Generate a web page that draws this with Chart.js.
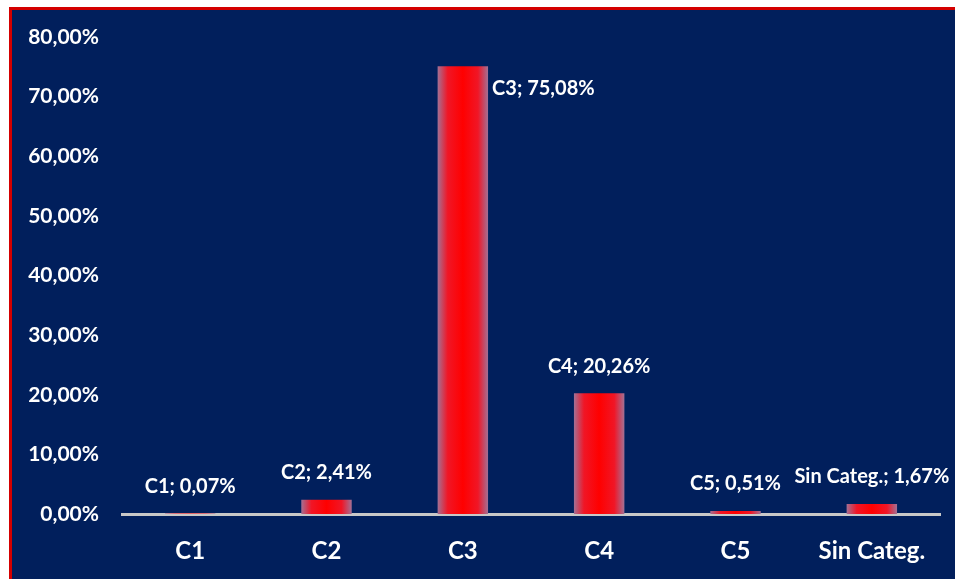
<!DOCTYPE html>
<html>
<head>
<meta charset="utf-8">
<script src="https://cdn.jsdelivr.net/npm/chart.js@4/dist/chart.umd.min.js"></script>
<style>
  html, body { margin: 0; padding: 0; background: #ffffff; width: 955px; height: 579px; overflow: hidden; }
  #frame {
    position: absolute; left: 9px; top: 7px; width: 943px; height: 569px;
    border-top: 3px solid #d40000; border-left: 3px solid #d40000;
    background: #011f5c;
  }
  #wrap { position: absolute; left: 0; top: 0; width: 943px; height: 569px; }
</style>
</head>
<body>
<div id="frame"><div id="wrap"><canvas id="c"></canvas></div></div>
<script>
const categories = ["C1", "C2", "C3", "C4", "C5", "Sin Categ."];
const shares = [0.07, 2.41, 75.08, 20.26, 0.51, 1.67];
const yTicks = [0, 10, 20, 30, 40, 50, 60, 70, 80];

const fmt = v => v.toFixed(2).replace('.', ',') + '%';

const gradientPlugin = {
  id: 'barGradient',
  beforeDatasetsDraw(chart) {
    const ctx = chart.ctx;
    chart.getDatasetMeta(0).data.forEach(el => {
      const half = el.width / 2;
      const g = ctx.createLinearGradient(el.x - half, 0, el.x + half, 0);
      g.addColorStop(0, '#a47094');
      g.addColorStop(0.2, '#f01626');
      g.addColorStop(0.5, '#ff0000');
      g.addColorStop(0.8, '#f01626');
      g.addColorStop(1, '#a47094');
      el.options = Object.assign({}, el.options, { backgroundColor: g });
    });
  }
};

const labelPlugin = {
  id: 'barLabels',
  afterDatasetsDraw(chart) {
    const ctx = chart.ctx;
    const meta = chart.getDatasetMeta(0);
    const maxVal = Math.max(...shares);
    ctx.save();
    ctx.fillStyle = '#ffffff';
    ctx.font = 'bold 20px Lato';
    ctx.textBaseline = 'middle';
    meta.data.forEach((el, i) => {
      const text = categories[i] + '; ' + fmt(shares[i]);
      if (shares[i] === maxVal) {
        ctx.textAlign = 'left';
        ctx.fillText(text, el.x + el.width / 2 + 4, el.y + 22);
      } else {
        ctx.textAlign = 'center';
        let x = el.x;
        const w = ctx.measureText(text).width;
        const right = chart.width - 2;
        if (x + w / 2 > right) x = right - w / 2;
        ctx.fillText(text, x, el.y - 27);
      }
    });
    ctx.restore();
  }
};

new Chart(document.getElementById('c'), {
  type: 'bar',
  data: {
    labels: categories,
    datasets: [{
      data: shares,
      backgroundColor: (c) => '#ff0000',
      borderWidth: 0,
      barPercentage: 0.37,
      categoryPercentage: 1.0
    }]
  },
  options: {
    responsive: true,
    maintainAspectRatio: false,
    animation: false,
    layout: { padding: { left: 0, right: 15, top: 27, bottom: 0 } },
    plugins: { legend: { display: false }, tooltip: { enabled: false } },
    scales: {
      x: {
        afterFit(scale) { scale.height = 65; },
        grid: { display: false, drawTicks: false },
        border: { display: true, color: '#c8c8c8', width: 3 },
        ticks: { color: '#ffffff', maxRotation: 0, font: { family: 'Lato', weight: 'bold', size: 24, lineHeight: 1 }, padding: 25 }
      },
      y: {
        min: yTicks[0],
        max: yTicks[yTicks.length - 1],
        afterBuildTicks(scale) { scale.ticks = yTicks.map(v => ({ value: v })); },
        afterFit(scale) { scale.width = 110; scale.paddingTop = 0; scale.paddingBottom = 0; },
        grid: { display: false, drawTicks: false },
        border: { display: false },
        ticks: {
          color: '#ffffff',
          font: { family: 'Lato', weight: 'bold', size: 21 },
          padding: 23,
          callback: v => fmt(v)
        }
      }
    }
  },
  plugins: [gradientPlugin, labelPlugin]
});
</script>
</body>
</html>
